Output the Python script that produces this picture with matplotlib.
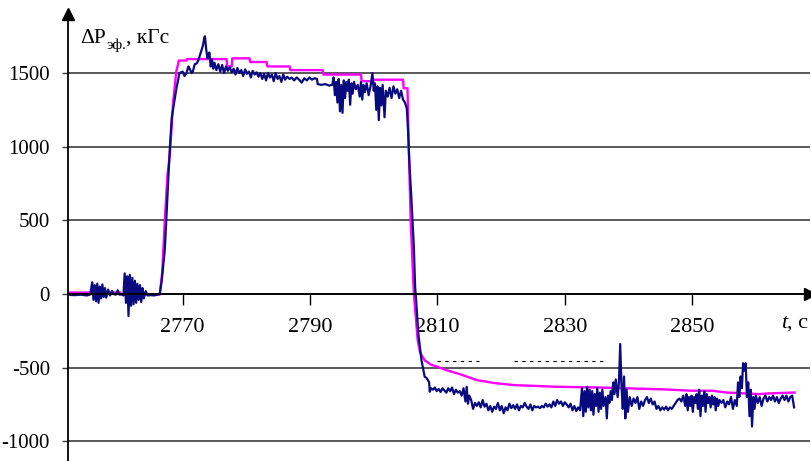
import numpy as np
import matplotlib
matplotlib.use('Agg')
import matplotlib.pyplot as plt

plt.rcParams['font.family'] = ['Liberation Serif', 'DejaVu Serif']
plt.rcParams['axes.unicode_minus'] = False

# ── data: (t, c ; dP, kgf) ──
blue_baseline = [
    (2752.0, -5), (2753.0, -8), (2754.0, -5), (2755.0, -10), (2755.5, -3),
    (2755.8, 80), (2756.0, -40), (2756.2, 60), (2756.4, -50), (2756.6, 70),
    (2756.8, -60), (2757.0, 50), (2757.2, -30), (2757.4, 65), (2757.6, -20),
    (2757.8, 40), (2758.0, -25), (2758.3, 30), (2758.6, -10), (2758.9, 20),
    (2759.2, 0), (2759.5, -5), (2759.8, 25), (2760.1, -5), (2760.4, 0),
    (2760.7, -10), (2760.9, 140), (2761.1, -60), (2761.3, 120), (2761.5, -150),
    (2761.7, 130), (2761.9, -80), (2762.1, 110), (2762.3, -70), (2762.5, 90),
    (2762.7, -60), (2762.9, 70), (2763.1, -40), (2763.3, 60), (2763.5, -55),
    (2763.7, 40), (2763.9, -30), (2764.2, 20), (2764.5, -10), (2765.0, -8),
    (2765.5, -10), (2766.0, -5), (2766.4, 0),
]
blue_rise = [
    (2766.7, 84), (2767.0, 210), (2767.2, 300), (2767.6, 650), (2768.0, 1000),
    (2768.3, 1200), (2768.6, 1280), (2769.0, 1390), (2769.5, 1500),
    (2770.0, 1510), (2770.3, 1480), (2770.6, 1500), (2770.9, 1545),
    (2771.1, 1530), (2771.4, 1500), (2771.6, 1510), (2771.9, 1560),
    (2772.2, 1565), (2772.5, 1590), (2772.7, 1620), (2773.0, 1660),
    (2773.2, 1690), (2773.4, 1740), (2773.5, 1750), (2773.7, 1660),
    (2773.9, 1600), (2774.0, 1620), (2774.2, 1640), (2774.4, 1545),
]
blue_plateau = [
    (2774.6, 1590), (2774.8, 1530), (2775.0, 1570), (2775.3, 1520),
    (2775.6, 1560), (2775.9, 1510), (2776.2, 1555), (2776.5, 1500),
    (2776.8, 1545), (2777.1, 1515), (2777.4, 1540), (2777.7, 1505),
    (2778.0, 1530), (2778.3, 1490), (2778.6, 1535), (2778.9, 1500),
    (2779.2, 1520), (2779.5, 1480), (2779.8, 1525), (2780.1, 1495),
    (2780.4, 1510), (2780.7, 1470), (2781.0, 1515), (2781.3, 1490),
    (2781.6, 1505), (2781.9, 1475), (2782.2, 1500), (2782.5, 1460),
    (2782.8, 1495), (2783.1, 1450), (2783.4, 1500), (2783.7, 1470),
    (2784.0, 1490), (2784.3, 1445), (2784.6, 1500), (2784.9, 1460),
    (2785.2, 1480), (2785.5, 1440), (2785.8, 1490), (2786.1, 1455),
    (2786.4, 1475), (2786.8, 1460), (2787.1, 1470), (2787.5, 1450),
    (2787.9, 1470), (2788.3, 1455), (2788.7, 1435), (2789.1, 1465),
    (2789.5, 1450), (2789.9, 1470), (2790.3, 1455), (2790.7, 1465),
    (2791.1, 1460), (2791.2, 1425), (2791.8, 1420), (2792.4, 1425),
    (2793.0, 1415), (2793.5, 1420), (2793.7, 1470), (2793.9, 1350),
    (2794.1, 1440), (2794.3, 1300), (2794.5, 1460), (2794.7, 1240),
    (2794.9, 1420), (2795.1, 1230), (2795.3, 1450), (2795.5, 1330),
    (2795.7, 1440), (2795.9, 1380), (2796.1, 1455), (2796.3, 1285),
    (2796.5, 1430), (2796.7, 1360), (2796.9, 1440), (2797.2, 1390),
    (2797.5, 1420), (2797.8, 1340), (2798.0, 1440), (2798.2, 1320),
    (2798.4, 1420), (2798.6, 1370), (2798.9, 1430), (2799.2, 1350),
    (2799.5, 1410), (2799.8, 1500), (2800.0, 1380), (2800.2, 1430),
    (2800.4, 1250), (2800.6, 1410), (2800.8, 1180), (2801.0, 1400),
    (2801.2, 1280), (2801.4, 1420), (2801.7, 1200), (2801.9, 1380),
    (2802.2, 1340), (2802.5, 1400), (2802.8, 1330), (2803.1, 1410),
    (2803.4, 1360), (2803.7, 1390), (2804.0, 1330), (2804.3, 1380),
    (2804.6, 1320), (2804.9, 1300), (2805.2, 1260),
]
blue_drop = [
    (2805.4, 1100), (2805.6, 890), (2805.9, 660), (2806.3, 320), (2806.5, 50),
    (2806.8, -130), (2807.0, -267), (2807.5, -450), (2807.7, -494),
    (2808.0, -562), (2808.3, -570), (2808.5, -585), (2808.7, -600),
    (2808.8, -664),
]
blue_tail = [
    (2809.0, -640), (2809.3, -650), (2809.6, -635), (2809.9, -660),
    (2810.2, -645), (2810.5, -665), (2810.8, -640), (2811.1, -655),
    (2811.4, -670), (2811.7, -640), (2812.0, -660), (2812.3, -635),
    (2812.6, -680), (2812.9, -650), (2813.2, -670), (2813.5, -660),
    (2813.8, -690), (2814.1, -640), (2814.4, -730), (2814.6, -630),
    (2814.8, -745), (2815.0, -690), (2815.3, -720), (2815.6, -780),
    (2815.9, -740), (2816.2, -760), (2816.5, -735), (2816.8, -770),
    (2817.1, -720), (2817.4, -765), (2817.7, -745), (2818.0, -790),
    (2818.3, -760), (2818.6, -800), (2818.9, -765), (2819.2, -780),
    (2819.5, -740), (2819.8, -790), (2820.1, -760), (2820.4, -810),
    (2820.7, -770), (2821.0, -790), (2821.3, -745), (2821.6, -775),
    (2821.9, -755), (2822.2, -780), (2822.5, -750), (2822.8, -790),
    (2823.1, -760), (2823.4, -770), (2823.7, -740), (2824.0, -765),
    (2824.3, -780), (2824.6, -750), (2824.9, -790), (2825.2, -760),
    (2825.5, -770), (2825.8, -765), (2826.1, -775), (2826.4, -760),
    (2826.7, -770), (2827.0, -745), (2827.3, -765), (2827.6, -750),
    (2827.9, -770), (2828.2, -730), (2828.5, -760), (2828.8, -720),
    (2829.1, -745), (2829.4, -730), (2829.7, -760), (2830.0, -735),
    (2830.3, -750), (2830.6, -770), (2830.9, -745), (2831.2, -790),
    (2831.5, -760), (2831.8, -795), (2832.1, -770), (2832.4, -790),
    (2832.7, -640), (2832.9, -830), (2833.1, -660), (2833.3, -800),
    (2833.5, -630), (2833.7, -770), (2833.9, -650), (2834.1, -790),
    (2834.3, -660), (2834.5, -820), (2834.7, -680), (2834.9, -760),
    (2835.1, -640), (2835.3, -800), (2835.5, -670), (2835.7, -780),
    (2835.9, -650), (2836.1, -760), (2836.4, -700), (2836.6, -845),
    (2836.8, -690), (2837.0, -740), (2837.2, -660), (2837.4, -720),
    (2837.6, -600), (2837.8, -680), (2838.0, -580), (2838.3, -700),
    (2838.5, -600), (2838.7, -340), (2838.9, -620), (2839.1, -780),
    (2839.3, -560), (2839.5, -845), (2839.7, -650), (2839.9, -800),
    (2840.2, -700), (2840.5, -760), (2840.8, -710), (2841.1, -740),
    (2841.4, -700), (2841.7, -780), (2842.0, -730), (2842.3, -760),
    (2842.6, -720), (2842.9, -700), (2843.2, -740), (2843.5, -710),
    (2843.8, -750), (2844.1, -730), (2844.4, -780), (2844.7, -760),
    (2845.0, -790), (2845.3, -770), (2845.6, -785), (2845.9, -765),
    (2846.2, -790), (2846.5, -770), (2846.8, -780), (2847.1, -760),
    (2847.4, -740), (2847.7, -720), (2848.0, -710), (2848.3, -730),
    (2848.6, -690), (2848.9, -760), (2849.1, -680), (2849.3, -790),
    (2849.5, -700), (2849.7, -760), (2849.9, -690), (2850.1, -800),
    (2850.3, -700), (2850.5, -740), (2850.7, -680), (2850.9, -780),
    (2851.1, -650), (2851.3, -830), (2851.5, -690), (2851.7, -760),
    (2851.9, -660), (2852.1, -800), (2852.3, -680), (2852.5, -740),
    (2852.7, -700), (2852.9, -770), (2853.1, -690), (2853.3, -750),
    (2853.5, -700), (2853.7, -790), (2853.9, -710), (2854.1, -760),
    (2854.3, -720), (2854.6, -740), (2854.9, -720), (2855.2, -770),
    (2855.5, -730), (2855.8, -750), (2856.1, -700), (2856.4, -780),
    (2856.7, -720), (2857.0, -760), (2857.2, -600), (2857.4, -700),
    (2857.6, -560), (2857.8, -640), (2858.0, -470), (2858.2, -520),
    (2858.4, -470), (2858.6, -700), (2858.8, -600), (2859.0, -830),
    (2859.2, -650), (2859.4, -900), (2859.6, -700), (2859.8, -780),
    (2860.0, -690), (2860.3, -740), (2860.6, -700), (2860.9, -760),
    (2861.2, -710), (2861.5, -690), (2861.8, -730), (2862.1, -700),
    (2862.4, -720), (2862.7, -690), (2863.0, -730), (2863.3, -700),
    (2863.6, -740), (2863.9, -710), (2864.2, -690), (2864.5, -720),
    (2864.8, -690), (2865.1, -730), (2865.4, -700), (2865.7, -690),
    (2866.0, -770),
]

pink_line = [
    (2752.0, 10), (2757.0, 10), (2757.2, 35), (2757.6, 10), (2760.2, 10),
    (2760.4, -5), (2766.4, -5), (2766.8, 150), (2767.2, 500), (2767.6, 800),
    (2768.0, 950), (2768.5, 1300), (2769.0, 1510), (2769.3, 1565),
    (2769.4, 1585), (2770.6, 1585), (2770.7, 1595), (2776.9, 1595),
    (2777.0, 1545), (2777.7, 1545), (2777.8, 1600), (2780.5, 1600),
    (2780.6, 1575), (2783.2, 1575), (2783.3, 1545), (2786.8, 1545),
    (2786.9, 1520), (2792.0, 1520), (2792.1, 1490), (2798.0, 1490),
    (2798.1, 1445), (2799.9, 1445), (2800.0, 1455), (2804.6, 1455),
    (2804.7, 1397), (2805.3, 1397), (2805.5, 1000), (2805.8, 500),
    (2806.3, 0), (2806.9, -313), (2807.3, -400), (2808.0, -450),
    (2809.0, -480), (2810.0, -494), (2811.4, -517), (2813.5, -544),
    (2816.2, -585), (2819.0, -605), (2822.1, -619), (2828.9, -630),
    (2835.5, -635), (2845.7, -648), (2850.0, -657), (2853.2, -657),
    (2855.4, -669), (2860.6, -680), (2862.0, -675), (2866.1, -669),
]

dash_level = -454
dash_spans = [(2809.9, 2816.6), (2822.1, 2836.7)]

x_ticks = [2770, 2790, 2810, 2830, 2850]
y_ticks = [-1000, -500, 0, 500, 1000, 1500]
y_labels = ['-1000', '-500', '0', '500', '1000', '1500']

W, H = 812, 461
fig = plt.figure(figsize=(W / 100, H / 100), dpi=100)
ax = fig.add_axes([68 / W, 0, (810 - 68) / W, 1 - 14 / H])
ax.set_xlim(2752, 2868.5)
ax.set_ylim(-1134, 1901)

# grid + axes
ax.set_yticks(y_ticks)
ax.set_yticklabels(y_labels)
ax.grid(axis='y', color='#3c3c3c', lw=1.2, zorder=0)
ax.set_xticks(x_ticks)
ax.spines[['top', 'right']].set_visible(False)
ax.spines['bottom'].set_position(('data', 0))
for s in ('left', 'bottom'):
    ax.spines[s].set_linewidth(1.3)
    ax.spines[s].set_color('black')
    ax.spines[s].set_zorder(4)
ax.tick_params(axis='x', direction='out', length=8, width=1.0, pad=9, labelsize=16)
ax.tick_params(axis='y', direction='out', length=4, width=1.0, pad=9, labelsize=15,
               color='#3c3c3c')

# arrow heads
ax.plot(1, 0, marker='>', ms=8, color='black', transform=ax.get_yaxis_transform(),
        clip_on=False, zorder=5)
ax.plot(0, 1, marker='^', ms=8, color='black', transform=ax.transAxes,
        clip_on=False, zorder=5)

# series
pt, pv = np.array(pink_line).T
ax.plot(pt, pv, color='#ff00ff', lw=1.7, zorder=2)
blue = np.array(blue_baseline + blue_rise + blue_plateau + blue_drop + blue_tail)
ax.plot(blue[:, 0], blue[:, 1], color='#0a0a80', lw=1.6, zorder=3)

for a, b in dash_spans:
    ax.plot([a, b], [dash_level, dash_level], color='black', lw=0.8, dashes=(3, 4), zorder=2)

# axis titles
t1 = fig.text(80 / W, 1 - 43 / H, 'ΔP', fontsize=15.5, va='baseline', ha='left')
t2 = ax.annotate('эф.', xy=(1, 0), xycoords=t1, xytext=(0.5, -3),
                 textcoords='offset points', fontsize=11, va='bottom', ha='left')
ax.annotate(', кГс', xy=(1, 0), xycoords=(t2, t1), fontsize=15.5, va='bottom', ha='left')

t4 = fig.text(781 / W, 1 - 323 / H, 't', fontsize=16, style='italic', va='center', ha='left')
ax.annotate(', с', xy=(1, 0.5), xycoords=t4, fontsize=16, va='center', ha='left')

fig.savefig('out.png', dpi=100)
